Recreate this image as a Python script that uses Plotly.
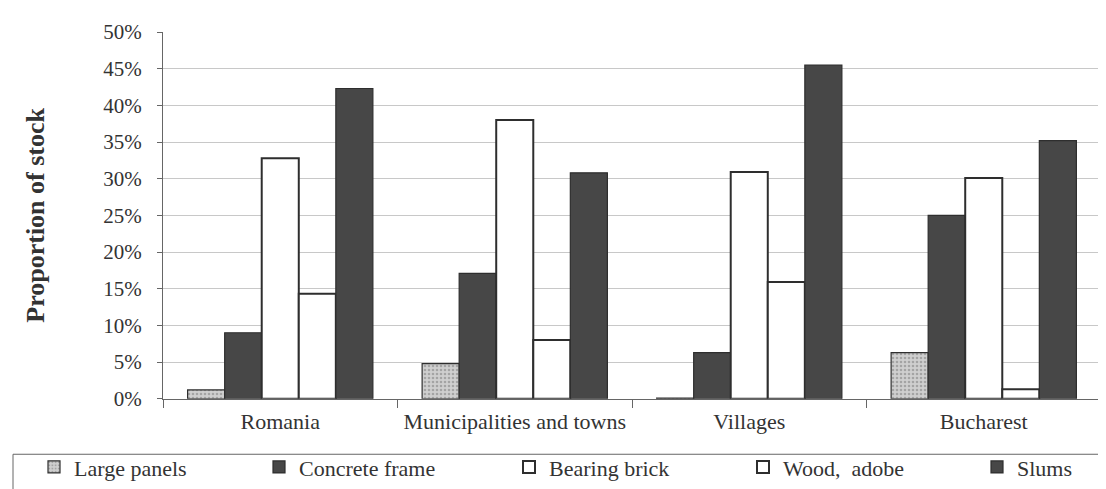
import plotly.graph_objects as go

categories = ["Romania", "Municipalities and towns", "Villages", "Bucharest"]
large_panels = [0.012, 0.048, 0.001, 0.063]
concrete_frame = [0.090, 0.171, 0.063, 0.250]
bearing_brick = [0.328, 0.380, 0.309, 0.301]
wood_adobe = [0.143, 0.080, 0.159, 0.013]
slums = [0.423, 0.308, 0.455, 0.352]
y_ticks = [0, 0.05, 0.10, 0.15, 0.20, 0.25, 0.30, 0.35, 0.40, 0.45, 0.50]

DARK = "#474747"
EDGE = "#2e2e2e"
FONT = "Liberation Serif"
TXT = "#333333"
W, H = 1106, 489

fig = go.Figure()
fig.add_trace(go.Bar(
    name="Large panels", x=categories, y=large_panels, legend="legend",
    marker=dict(color="#c4c4c4", line=dict(color=EDGE, width=1.2),
                pattern=dict(shape=".", fgcolor="#7a7a7a", bgcolor="#cfcfcf", size=4, solidity=0.35)),
))
fig.add_trace(go.Bar(
    name="Concrete frame", x=categories, y=concrete_frame, legend="legend2",
    marker=dict(color=DARK, line=dict(color=EDGE, width=1.2)),
))
fig.add_trace(go.Bar(
    name="Bearing brick", x=categories, y=bearing_brick, legend="legend3",
    marker=dict(color="white", line=dict(color=EDGE, width=2)),
))
fig.add_trace(go.Bar(
    name="Wood,  adobe", x=categories, y=wood_adobe, legend="legend4",
    marker=dict(color="white", line=dict(color=EDGE, width=2)),
))
fig.add_trace(go.Bar(
    name="Slums", x=categories, y=slums, legend="legend5",
    marker=dict(color=DARK, line=dict(color=EDGE, width=1.2)),
))

# legend frame spanning the full width (paper coords relative to plot area)
fig.add_shape(type="rect", xref="paper", yref="paper",
              x0=-150 / 938, x1=1095 / 938, y0=-97 / 370, y1=-56 / 370,
              line=dict(color="#666666", width=1), fillcolor="rgba(0,0,0,0)", layer="below")

legend_px = [26, 251, 501, 735, 969]


def leg(xpx):
    return dict(
        orientation="h", xref="container", yref="container",
        x=xpx / W, xanchor="left", y=0.104, yanchor="top",
        borderwidth=0, bgcolor="rgba(0,0,0,0)",
        font=dict(family=FONT, size=22, color=TXT),
    )


fig.update_layout(
    width=W, height=H,
    margin=dict(l=155, r=13, t=21, b=98),
    paper_bgcolor="white", plot_bgcolor="white",
    barmode="group", bargap=0.21, bargroupgap=0,
    font=dict(family=FONT, size=22, color=TXT),
    showlegend=True,
    legend=leg(legend_px[0]),
    legend2=leg(legend_px[1]),
    legend3=leg(legend_px[2]),
    legend4=leg(legend_px[3]),
    legend5=leg(legend_px[4]),
)
fig.update_yaxes(
    range=[0, 0.5], tickvals=y_ticks, tickformat=".0%",
    showgrid=True, gridcolor="#c8c8c8", gridwidth=1,
    showline=True, linecolor="#666666", linewidth=1,
    ticks="outside", ticklen=5, tickcolor="#666666",
    ticklabelstandoff=11,
    tickfont=dict(family=FONT, size=21, color=TXT),
    title=dict(text="<b>Proportion of stock</b>", font=dict(family=FONT, size=26, color=TXT), standoff=51),
    zeroline=False,
)
fig.update_xaxes(
    showline=True, linecolor="#666666", linewidth=1,
    ticks="outside", tickson="boundaries", ticklen=8, tickcolor="#666666",
    ticklabelstandoff=3,
    tickfont=dict(family=FONT, size=22, color=TXT),
)

fig.write_html("out.html")
